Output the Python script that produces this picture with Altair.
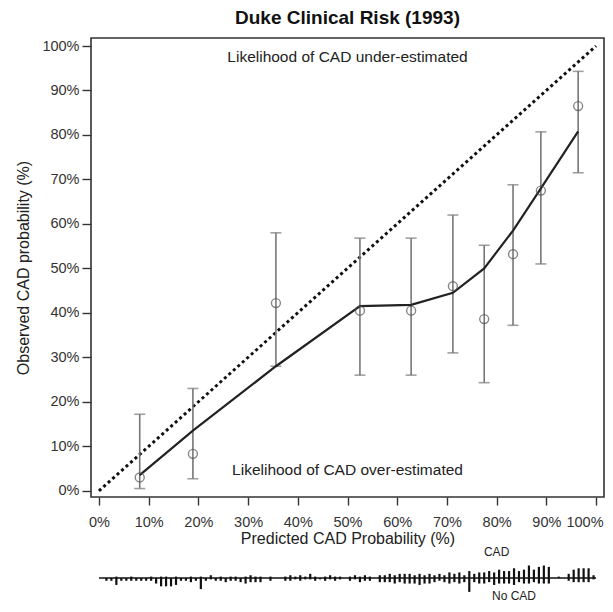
import altair as alt
import pandas as pd

# ---- data ----
pred = [8.2, 18.9, 35.6, 52.5, 62.8, 71.2, 77.5, 83.3, 88.9, 96.4]
obs = [3.0, 8.3, 42.2, 40.5, 40.5, 46.0, 38.6, 53.2, 67.5, 86.5]
lo = [0.5, 2.7, 28.0, 26.0, 26.0, 31.0, 24.3, 37.2, 51.0, 71.5]
hi = [17.2, 23.0, 58.0, 56.8, 56.8, 62.0, 55.2, 68.8, 80.7, 94.3]
smooth = [3.5, 13.5, 28.0, 41.5, 41.8, 44.5, 50.0, 58.5, 68.0, 80.8]
diag = [0, 100]
ticks = [0, 10, 20, 30, 40, 50, 60, 70, 80, 90, 100]

# histogram spikes per 1% bin of predicted probability (0..99)
cad_up = [0, 0, 0, 1, 0, 0, 1, 0, 0, 0,
          1, 0, 1, 1, 0, 1, 0, 0, 1, 0,
          1, 0, 2, 0, 1, 0, 1, 1, 0, 1,
          2, 1, 1, 0, 1, 0, 0, 1, 2, 1,
          2, 1, 3, 1, 0, 1, 2, 1, 1, 0,
          1, 2, 1, 2, 1, 0, 2, 2, 3, 2,
          3, 3, 3, 2, 3, 2, 3, 2, 3, 2,
          4, 3, 4, 2, 5, 3, 4, 4, 5, 4,
          6, 5, 5, 7, 5, 6, 9, 6, 8, 9,
          8, 0, 1, 0, 3, 6, 7, 7, 7, 2]
nocad_down = [0, 2, 2, 5, 2, 2, 2, 2, 2, 2,
              2, 4, 6, 6, 6, 5, 2, 2, 3, 2,
              8, 2, 1, 2, 2, 3, 2, 2, 3, 4,
              3, 3, 3, 0, 2, 0, 0, 2, 2, 1,
              2, 1, 1, 2, 1, 2, 1, 2, 1, 0,
              2, 1, 3, 2, 2, 0, 3, 3, 3, 4,
              3, 4, 4, 4, 5, 4, 4, 3, 2, 3,
              4, 3, 4, 3, 10, 3, 4, 4, 3, 5,
              4, 4, 4, 5, 3, 4, 4, 3, 4, 4,
              4, 0, 0, 0, 2, 3, 3, 3, 3, 1]

FONT = "Liberation Sans"
W, H = 513, 459
xscale = alt.Scale(domain=[-1.6, 101.6], nice=False, zero=False, padding=0)
yscale = alt.Scale(domain=[-1.4, 101.8], nice=False, zero=False, padding=0)
# rug spikes sit below the x axis title, on a scale of their own
rscale = alt.Scale(domain=[-18, 18], range=[565, 515], nice=False, zero=False, padding=0)

pts = pd.DataFrame({"pred": pred, "obs": obs, "lo": lo, "hi": hi, "smooth": smooth})
dg = pd.DataFrame({"x": diag, "y": diag})

last = "datum.value == 100"
xaxis = alt.Axis(values=ticks, labelExpr="datum.value + '%'", title="Predicted CAD Probability (%)",
                 grid=False, domain=False, tickSize=8, tickWidth=1.4, tickColor="#333",
                 labelColor="#333", labelFontSize=14.5, labelPadding=10, titleFontSize=16,
                 titleFontWeight="normal", titleColor="#222", titlePadding=2, labelFont=FONT, titleFont=FONT,
                 labelFlush=False, labelOverlap=False,
                 labelAlign={"condition": {"test": last, "value": "right"}, "value": "center"},
                 labelOffset={"condition": {"test": last, "value": 7}, "value": 0})
yaxis = alt.Axis(values=ticks, labelExpr="datum.value + '%'", title="Observed CAD probability (%)",
                 grid=False, domain=False, tickSize=9, tickWidth=1.4, tickColor="#333",
                 labelColor="#333", labelFontSize=14.5, labelPadding=3, titleFontSize=16,
                 titleFontWeight="normal", titleColor="#222", titlePadding=10, labelFont=FONT, titleFont=FONT,
                 labelFlush=False, labelOverlap=False)

X = lambda f: alt.X(f, scale=xscale, axis=xaxis)
Y = lambda f: alt.Y(f, scale=yscale, axis=yaxis)

base = alt.Chart(pts)
diag_line = alt.Chart(dg).mark_line(color="#111", strokeWidth=3, strokeDash=[3, 3]).encode(
    x=X("x:Q"), y=Y("y:Q"))
err = base.mark_rule(color="#777", strokeWidth=1.6).encode(x=X("pred:Q"), y=Y("lo:Q"), y2="hi:Q")
cap_lo = base.mark_tick(color="#777", orient="horizontal", size=11, thickness=1.6).encode(
    x=X("pred:Q"), y=Y("lo:Q"))
cap_hi = base.mark_tick(color="#777", orient="horizontal", size=11, thickness=1.6).encode(
    x=X("pred:Q"), y=Y("hi:Q"))
circ = base.mark_point(shape="circle", filled=False, size=80, color="#555", strokeWidth=1.4).encode(
    x=X("pred:Q"), y=Y("obs:Q"))
sm = base.mark_line(color="#222", strokeWidth=2.2).encode(x=X("pred:Q"), y=Y("smooth:Q"))

ann = pd.DataFrame({"x": [50, 50], "y": [97.5, 4.6],
                    "t": ["Likelihood of CAD under-estimated", "Likelihood of CAD over-estimated"]})
ann_t = alt.Chart(ann).mark_text(font=FONT, fontSize=15.5, color="#222").encode(
    x=X("x:Q"), y=Y("y:Q"), text="t:N")

main = alt.layer(diag_line, err, cap_lo, cap_hi, sm, circ, ann_t)

# ---- rug / spike histogram ----
bins = [i + 0.5 for i in range(100)]
rug = pd.DataFrame({"b": bins, "up": cad_up, "down": [-d for d in nocad_down], "zero": [0] * 100})
RY = lambda f: alt.Y(f, scale=rscale, axis=None)
rb = alt.Chart(rug)
baseline_df = pd.DataFrame({"x0": [0], "x1": [100], "y": [0]})
baseline = alt.Chart(baseline_df).mark_rule(color="#111", strokeWidth=1.5).encode(
    x=X("x0:Q"), x2="x1:Q", y=RY("y:Q"))
up = rb.transform_filter("datum.up > 0").mark_rule(color="#111", strokeWidth=2.2).encode(
    x=X("b:Q"), y=RY("up:Q"), y2="zero:Q")
down = rb.transform_filter("datum.down < 0").mark_rule(color="#111", strokeWidth=2.2).encode(
    x=X("b:Q"), y=RY("down:Q"), y2="zero:Q")
lab = pd.DataFrame({"x": [80, 83.5], "y": [18.7, -13.3], "t": ["CAD", "No CAD"]})
lab_t = alt.Chart(lab).mark_text(font=FONT, fontSize=12, color="#222").encode(
    x=X("x:Q"), y=RY("y:Q"), text="t:N")
rugl = alt.layer(baseline, up, down, lab_t)

chart = alt.layer(main, rugl).resolve_scale(y="independent").properties(
    width=W, height=H,
    autosize=alt.AutoSizeParams(type="none"),
    padding={"left": 83, "right": 1, "top": 30, "bottom": 107},
    title=alt.TitleParams("Duke Clinical Risk (1993)", font=FONT, fontSize=19, fontWeight="bold",
                          color="#111", offset=10, anchor="middle"),
).configure_view(stroke="#333", strokeWidth=1.6)
chart.save("out.html", embed_options={"renderer": "svg", "actions": False})
